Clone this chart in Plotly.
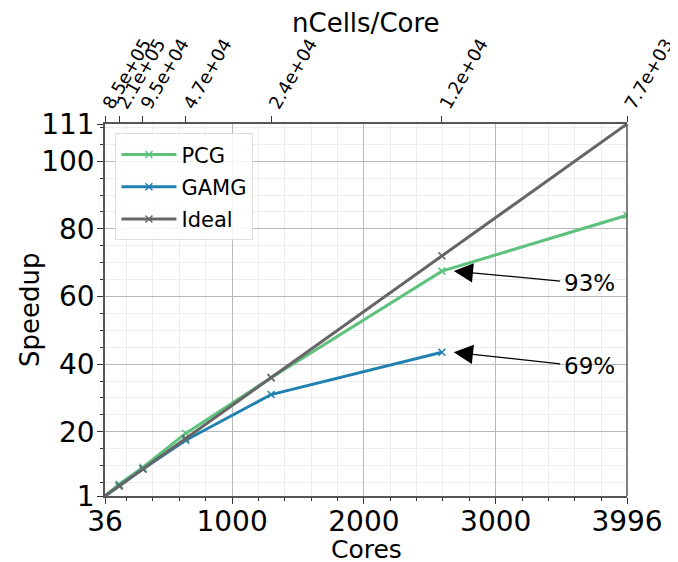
import plotly.graph_objects as go

cores = [36, 144, 324, 648, 1296, 2592, 3996]
pcg = [1, 4.5, 9.5, 19.5, 36, 67.5, 84]
gamg_cores = [36, 144, 324, 648, 1296, 2592]
gamg = [1, 4, 9, 17.5, 31, 43.5]
ideal = [1, 4, 9, 18, 36, 72, 111]
top_labels = ["8.5e+05", "2.1e+05", "9.5e+04", "4.7e+04", "2.4e+04", "1.2e+04", "7.7e+03"]
x_ticks = [36, 1000, 2000, 3000, 3996]
y_ticks = [1, 20, 40, 60, 80, 100, 111]
annots = [("93%", 2592, 67.5, 3500, 64), ("69%", 2592, 43.5, 3500, 39.5)]

FONT = "DejaVu Sans"
fig = go.Figure()
for name, xs, ys, col in [("PCG", cores, pcg, "#5ec27e"),
                          ("GAMG", gamg_cores, gamg, "#2182b2"),
                          ("Ideal", cores, ideal, "#666666")]:
    fig.add_trace(go.Scatter(x=xs, y=ys, name=name, legendgroup=name, mode="lines+markers",
                             line=dict(color=col, width=3),
                             marker=dict(symbol="x-thin", size=7, line=dict(width=1.5, color=col), color=col)))
# invisible trace for top axis
fig.add_trace(go.Scatter(x=cores, y=ideal, xaxis="x2", mode="lines", showlegend=False,
                         line=dict(width=0), hoverinfo="skip"))

for txt, x, y, tx, ty in annots:
    fig.add_annotation(x=x + 90, y=y, ax=tx, ay=ty + 0.5, axref="x", ayref="y", xref="x", yref="y",
                       showarrow=True, arrowhead=2, arrowsize=3.2, arrowwidth=1.2, arrowcolor="black",
                       text="", standoff=0)
    fig.add_annotation(x=tx, y=ty, xref="x", yref="y", text=txt, showarrow=False,
                       xanchor="left", font=dict(size=23, color="black", family=FONT))

# axis titles as annotations
fig.add_annotation(x=0.5, y=0, xref="paper", yref="paper", yshift=-53, text="Cores",
                   showarrow=False, yanchor="middle", font=dict(size=25, family=FONT, color="black"))
fig.add_annotation(x=0.5, y=1, xref="paper", yref="paper", yshift=101, text="nCells/Core",
                   showarrow=False, yanchor="middle", font=dict(size=26, family=FONT, color="black"))
fig.add_annotation(x=0, y=0.5, xref="paper", yref="paper", xshift=-75, text="Speedup", textangle=-90,
                   showarrow=False, xanchor="center", yanchor="middle",
                   font=dict(size=26, family=FONT, color="black"))

axis_common = dict(showline=True, linecolor="#555555", linewidth=1.5, mirror=False,
                   ticks="outside", ticklen=6, tickcolor="#333", zeroline=False, automargin=False)
fig.update_layout(
    width=678, height=562,
    margin=dict(l=97, r=59, t=116, b=74),
    paper_bgcolor="white", plot_bgcolor="white",
    font=dict(family=FONT, color="black"),
    xaxis=dict(range=[36, 3996], tickmode="array", tickvals=x_ticks,
               ticktext=[str(v) for v in x_ticks], tickfont=dict(size=28), ticklabelstandoff=-6,
               showgrid=True, gridcolor="#b8b8b8", gridwidth=1,
               minor=dict(tickmode="linear", tick0=0, dtick=200, ticks="outside", ticklen=3,
                          tickcolor="#333", showgrid=True, gridcolor="#ededed", gridwidth=1),
               **axis_common),
    xaxis2=dict(range=[36, 3996], overlaying="x", side="top", tickmode="array",
                tickvals=cores, ticktext=top_labels, tickangle=-60, tickfont=dict(size=18),
                ticklabelstandoff=-6,
                showgrid=False, showline=True, linecolor="#555555", linewidth=1.5,
                ticks="outside", ticklen=6, tickcolor="#333", zeroline=False, automargin=False),
    yaxis=dict(range=[1, 111], tickmode="array", tickvals=y_ticks,
               ticktext=[str(v) for v in y_ticks], tickfont=dict(size=28), ticklabelstandoff=-3,
               showgrid=True, gridcolor="#b8b8b8", gridwidth=1,
               minor=dict(tickmode="linear", tick0=0, dtick=5, ticks="outside", ticklen=3,
                          tickcolor="#333", showgrid=True, gridcolor="#ededed", gridwidth=1),
               **axis_common),
    legend=dict(x=0.02, y=0.975, xanchor="left", yanchor="top", bgcolor="rgba(255,255,255,0.85)",
                bordercolor="#dddddd", borderwidth=1, font=dict(size=21), itemwidth=55,
                tracegroupgap=2),
    showlegend=True,
)
# right spine
fig.add_shape(type="line", xref="paper", yref="paper", x0=1, x1=1, y0=0, y1=1,
              line=dict(color="#555555", width=1.5))
fig.write_html("out.html")
